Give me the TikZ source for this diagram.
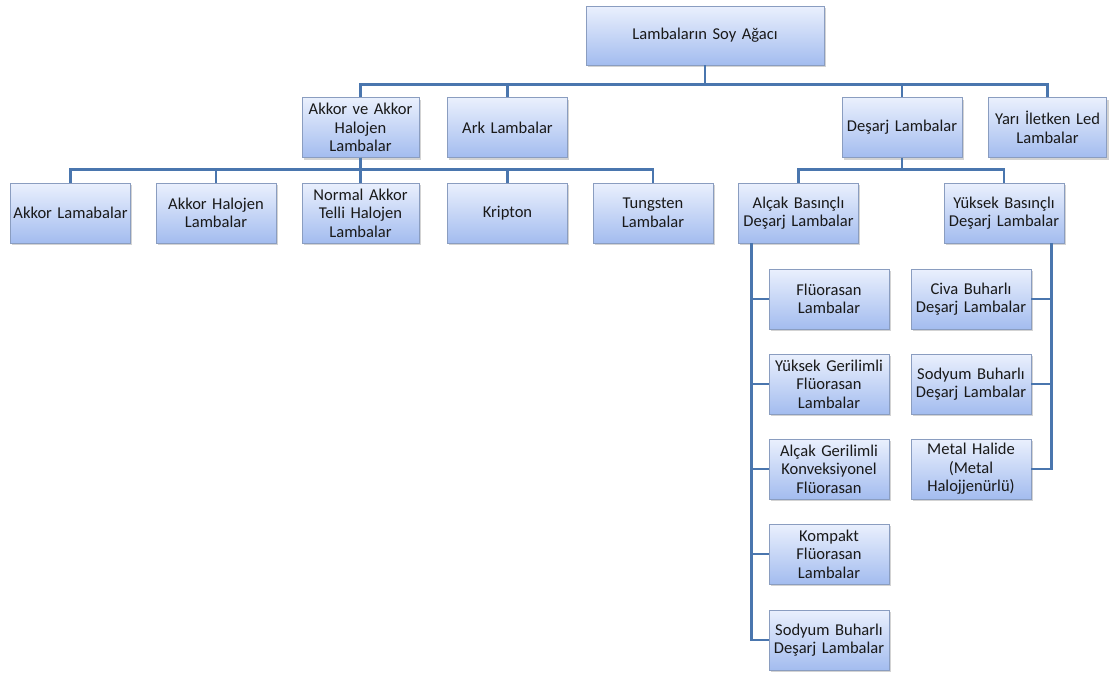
\documentclass[tikz,border=0pt]{standalone}
\usepackage{fontspec}
\setmainfont{Carlito}
\usetikzlibrary{shadows,calc}
\definecolor{boxtop}{HTML}{EAF0FD}
\definecolor{boxbot}{HTML}{A3BCEF}
\definecolor{boxline}{HTML}{8A9DC0}
\definecolor{connc}{HTML}{4A76AE}
\tikzset{
  box/.style={draw=boxline, line width=0.6pt, top color=boxtop, bottom color=boxbot,
    drop shadow={opacity=0.35, shadow xshift=1.4pt, shadow yshift=-1.6pt},
    align=center, inner xsep=0.5pt, inner ysep=0pt, text width=89pt, minimum height=45pt,
    font=\fontsize{12.4}{13.9}\selectfont, text=black!90},
  conn/.style={draw=connc, line width=2.2pt}
}
\begin{document}
\begin{tikzpicture}[x=0.75pt,y=-0.75pt]
\useasboundingbox (0,0) rectangle (1109,675);
\node[box, text width=177.5pt, minimum height=44.25pt] (root) at (705,35.5) {Lambaların Soy Ağacı};
\node[box, text width=86.75pt] (akv) at (360.5,127.5) {Akkor ve Akkor\\Halojen\\Lambalar};
\node[box] (ark) at (507.5,127.5) {Ark Lambalar};
\node[box] (des) at (902,127.5) {Deşarj Lambalar};
\node[box, text width=88pt] (led) at (1047.5,127.5) {Yarı İletken Led\\Lambalar};
\node[box] (ak1) at (70.5,213) {Akkor Lamabalar};
\node[box] (ak2) at (216,213) {Akkor Halojen\\Lambalar};
\node[box, text width=86.75pt] (ak3) at (360.5,213) {Normal Akkor\\Telli Halojen\\Lambalar};
\node[box] (ak4) at (507.5,213) {Kripton};
\node[box] (ak5) at (653,213) {Tungsten\\Lambalar};
\node[box] (alc) at (798.5,213) {Alçak Basınçlı\\Deşarj Lambalar};
\node[box] (yuk) at (1004,213) {Yüksek Basınçlı\\Deşarj Lambalar};
\node[box] (l1) at (829,299) {Flüorasan\\Lambalar};
\node[box] (l2) at (829,384) {Yüksek Gerilimli\\Flüorasan\\Lambalar};
\node[box] (l3) at (829,469) {Alçak Gerilimli\\Konveksiyonel\\Flüorasan};
\node[box] (l4) at (829,554) {Kompakt\\Flüorasan\\Lambalar};
\node[box] (l5) at (829,640) {Sodyum Buharlı\\Deşarj Lambalar};
\node[box] (r1) at (971,299) {Civa Buharlı\\Deşarj Lambalar};
\node[box] (r2) at (971,384) {Sodyum Buharlı\\Deşarj Lambalar};
\node[box] (r3) at (971,469) {Metal Halide\\(Metal\\Halojjenürlü)};
\foreach \c in {akv,ark,des,led}
  \draw[conn] (root.south) -- ++(0,19.5) -| (\c.north);
\foreach \c in {ak1,ak2,ak3,ak4,ak5}
  \draw[conn] (akv.south) -- ++(0,12) -| (\c.north);
\foreach \c in {alc,yuk}
  \draw[conn] (des.south) -- ++(0,12) -| (\c.north);
\coordinate (la) at ([xshift=9.75pt]alc.south west);
\coordinate (ra) at ([xshift=-9.75pt]yuk.south east);
\foreach \c in {l1,l2,l3,l4,l5}
  \draw[conn] (la) |- (\c.west);
\foreach \c in {r1,r2,r3}
  \draw[conn] (ra) |- (\c.east);
\end{tikzpicture}
\end{document}
